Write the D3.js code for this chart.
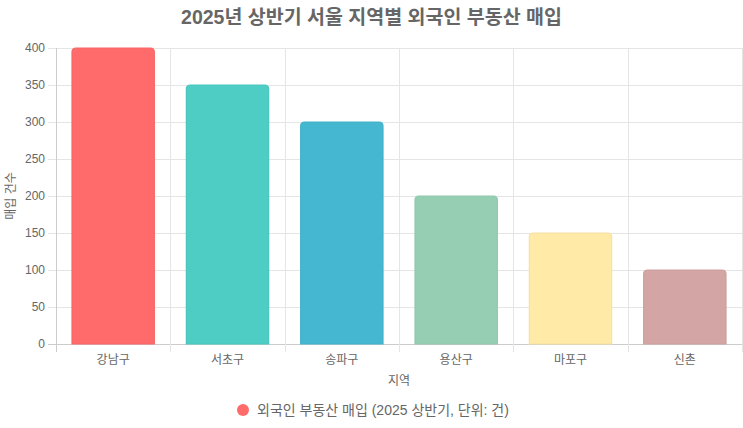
<!DOCTYPE html>
<html>
<head>
<meta charset="utf-8">
<script src="https://cdn.jsdelivr.net/npm/d3@7"></script>
<style>
  body { margin: 0; background: #fff; }
  text { font-family: "Liberation Sans", "Noto Sans CJK KR", sans-serif; }
</style>
</head>
<body>
<script>
var regions = ['강남구', '서초구', '송파구', '용산구', '마포구', '신촌'];
var purchases = [400, 350, 300, 200, 150, 100];
var colors = ['#FF6B6B', '#4ECDC4', '#45B7D1', '#96CEB4', '#FFEAA7', '#D4A5A5'];
var yTicks = [0, 50, 100, 150, 200, 250, 300, 350, 400];

var W = 743, H = 428;
var margin = {top: 48, right: 1, bottom: 84, left: 56},
    width = W - margin.left - margin.right,
    height = H - margin.top - margin.bottom;

var svg = d3.select('body').append('svg')
    .attr('width', W)
    .attr('height', H);

svg.append('text')
    .attr('x', W / 2).attr('y', 24)
    .attr('text-anchor', 'middle')
    .attr('font-size', 19.5).attr('font-weight', 'bold')
    .attr('fill', '#666')
    .text('2025년 상반기 서울 지역별 외국인 부동산 매입');

var g = svg.append('g')
    .attr('transform', 'translate(' + margin.left + ',' + margin.top + ')');

var x = d3.scaleBand().domain(regions).range([0, width]);
var y = d3.scaleLinear().domain([0, 400]).range([height, 0]);

// grid
g.selectAll('.hgrid').data(yTicks).enter().append('line')
    .attr('x1', -8).attr('x2', width)
    .attr('y1', function(d) { return y(d) + 0.5; })
    .attr('y2', function(d) { return y(d) + 0.5; })
    .attr('stroke', function(d) { return d === 0 ? '#ccc' : '#e5e5e5'; });

var vlines = regions.map(function(r) { return x(r); }).concat([width]);
g.selectAll('.vgrid').data(vlines).enter().append('line')
    .attr('x1', function(d) { return Math.round(d) + 0.5; })
    .attr('x2', function(d) { return Math.round(d) + 0.5; })
    .attr('y1', 0).attr('y2', height + 8)
    .attr('stroke', function(d, i) { return i === 0 ? '#ccc' : '#e5e5e5'; });

// y labels
g.selectAll('.ylab').data(yTicks).enter().append('text')
    .attr('x', -11).attr('y', function(d) { return y(d); })
    .attr('dy', '0.35em').attr('text-anchor', 'end')
    .attr('font-size', 12).attr('fill', '#666')
    .text(function(d) { return d; });

// bars
var bw = x.bandwidth() * 0.72;
var r = 4;
g.selectAll('.bar').data(purchases).enter().append('path')
    .attr('d', function(d, i) {
      var x0 = x(regions[i]) + (x.bandwidth() - bw) / 2, x1 = x0 + bw;
      var y0 = y(d), y1 = y(0);
      return 'M' + x0 + ',' + y1 + 'L' + x0 + ',' + (y0 + r) +
        'Q' + x0 + ',' + y0 + ' ' + (x0 + r) + ',' + y0 +
        'L' + (x1 - r) + ',' + y0 +
        'Q' + x1 + ',' + y0 + ' ' + x1 + ',' + (y0 + r) +
        'L' + x1 + ',' + y1 + 'Z';
    })
    .attr('fill', function(d, i) { return colors[i]; })
    .attr('stroke', function(d, i) { return d3.color(colors[i]).darker(0.1); })
    .attr('stroke-width', 1.2);

// x labels
g.selectAll('.xlab').data(regions).enter().append('text')
    .attr('x', function(d) { return x(d) + x.bandwidth() / 2; })
    .attr('y', height + 20)
    .attr('text-anchor', 'middle')
    .attr('font-size', 12).attr('fill', '#666')
    .text(function(d) { return d; });

// axis titles
svg.append('text')
    .attr('x', margin.left + width / 2).attr('y', 385)
    .attr('text-anchor', 'middle')
    .attr('font-size', 12).attr('fill', '#666')
    .text('지역');

svg.append('text')
    .attr('transform', 'translate(15,' + (margin.top + height / 2) + ') rotate(-90)')
    .attr('text-anchor', 'middle')
    .attr('font-size', 12).attr('fill', '#666')
    .text('매입 건수');

// legend
var legend = svg.append('g').attr('transform', 'translate(243,410)');
legend.append('circle').attr('r', 6).attr('fill', colors[0]);
legend.append('text')
    .attr('x', 14).attr('dy', '0.35em')
    .attr('font-size', 14).attr('fill', '#666')
    .text('외국인 부동산 매입 (2025 상반기, 단위: 건)');
</script>
</body>
</html>
